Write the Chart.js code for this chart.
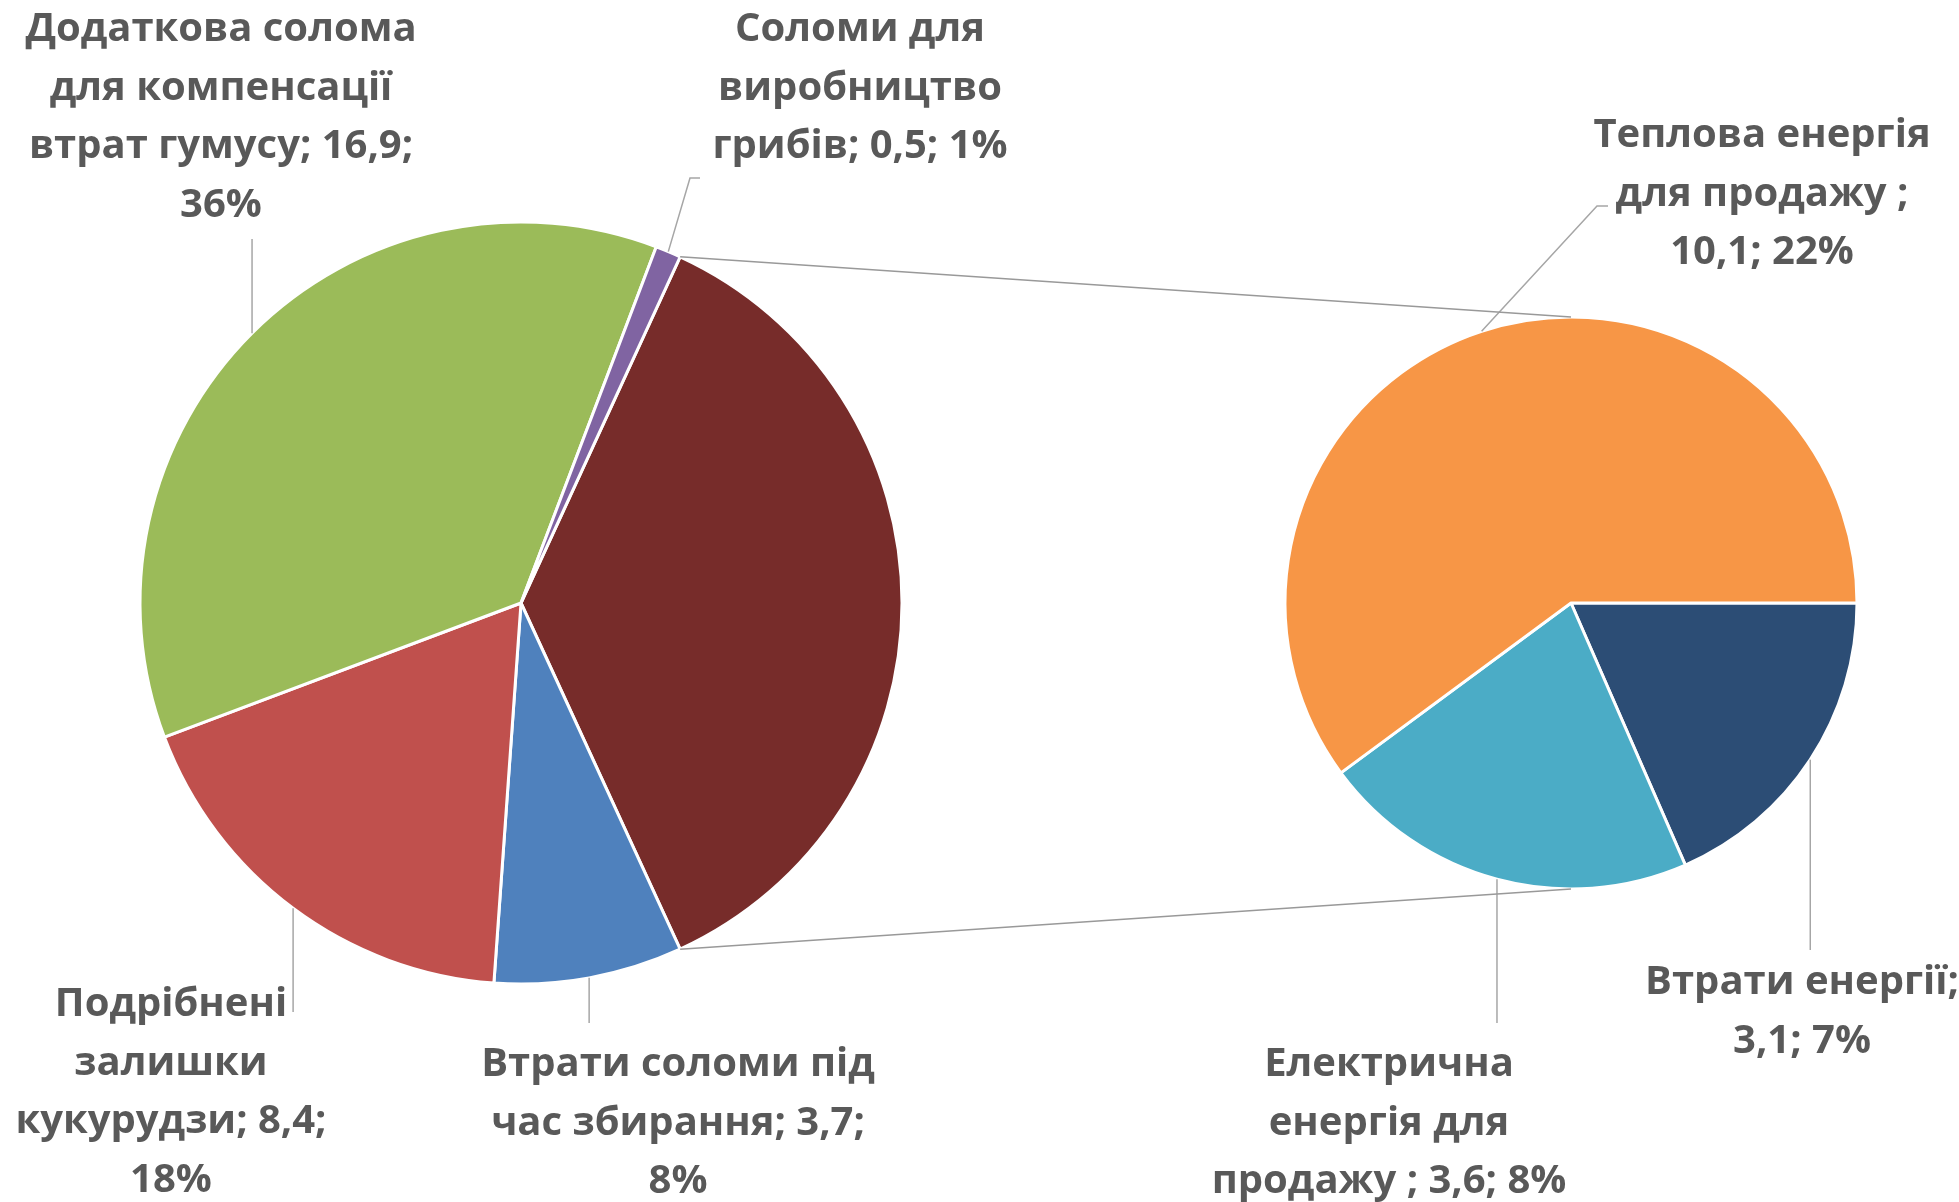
<!DOCTYPE html>
<html>
<head>
<meta charset="utf-8">
<title>Використання соломи</title>
<script src="https://cdn.jsdelivr.net/npm/chart.js@4.4.1/dist/chart.umd.min.js"></script>
<style>
    html, body { margin: 0; padding: 0; background: #fff; }
    #wrap { position: relative; width: 1959px; height: 1202px; }
    #wrap canvas { position: absolute; left: 0; top: 0; }
</style>
</head>
<body>
<div id="wrap">
    <canvas id="mainPie" width="1959" height="1202"></canvas>
    <canvas id="subPie" width="1959" height="1202"></canvas>
</div>
<script>
// Main pie (the energy part is the first slice, split out to the right)
const mainCategories = [
    'Втрати соломи під\nчас збирання',
    'Подрібнені\nзалишки\nкукурудзи',
    'Додаткова солома\nдля компенсації\nвтрат гумусу',
    'Соломи для\nвиробництво\nгрибів'
];
const mainValues = [3.7, 8.4, 16.9, 0.5];
const mainPercents = [8, 18, 36, 1];

// Secondary pie: energy from straw
const subCategories = [
    'Втрати енергії',
    'Електрична\nенергія для\nпродажу ',
    'Теплова енергія\nдля продажу '
];
const subValues = [3.1, 3.6, 10.1];
const subPercents = [7, 8, 22];

const energyTotal = subValues.reduce((a, b) => a + b, 0);
const grandTotal = energyTotal + mainValues.reduce((a, b) => a + b, 0);

const TEXT_COLOR = '#595959';
const LEADER_COLOR = '#a6a6a6';
const FONT = 'bold 40px "Open Sans", "Noto Sans", sans-serif';
const LINE_H = 58.5;

// label placement: centre x, first line y, where the tail wraps, leader end points
// (null x = keep the x of the slice point, so the leader runs vertically)
const mainLabelLayout = [
    null, // energy slice has no label
    { x: 678, y: 1065, wrap: 'pct', leader: [[null, 1023]] },
    { x: 171, y: 1005, wrap: 'pct', leader: [[null, 1012]] },
    { x: 221, y: 30, wrap: 'pct', leader: [[null, 239]] },
    { x: 860, y: 30, wrap: 'none', leader: [[690, 178], [700, 178]] }
];
const subLabelLayout = [
    { x: 1802, y: 983, wrap: 'value', leader: [[null, 950]] },
    { x: 1389, y: 1065, wrap: 'none', leader: [[null, 1023]] },
    { x: 1762, y: 136, wrap: 'value', leader: [[1597, 206], [1608, 206]] }
];

function fmtNum(v) {
    return String(v).replace('.', ',');
}

function buildLabel(name, value, pct, wrap) {
    return name + ';' + (wrap === 'value' ? '\n' : ' ') + fmtNum(value) + ';' +
        (wrap === 'pct' ? '\n' : ' ') + pct + '%';
}

// draws data labels with leader lines from the middle of each slice's rim
const sliceLabels = {
    id: 'sliceLabels',
    afterDatasetsDraw(chart, args, opts) {
        const ctx = chart.ctx;
        const arcs = chart.getDatasetMeta(0).data;
        ctx.save();
        arcs.forEach((arc, i) => {
            const lay = opts.layout[i];
            if (!lay) return;
            const mid = (arc.startAngle + arc.endAngle) / 2;
            const sx = arc.x + arc.outerRadius * Math.cos(mid);
            const sy = arc.y + arc.outerRadius * Math.sin(mid);

            ctx.strokeStyle = LEADER_COLOR;
            ctx.lineWidth = 1.5;
            ctx.beginPath();
            ctx.moveTo(sx, sy);
            lay.leader.forEach(p => ctx.lineTo(p[0] === null ? sx : p[0], p[1]));
            ctx.stroke();

            const text = buildLabel(opts.names[i], opts.values[i], opts.percents[i], lay.wrap);
            ctx.fillStyle = TEXT_COLOR;
            ctx.font = FONT;
            ctx.textAlign = 'center';
            ctx.textBaseline = 'middle';
            text.split('\n').forEach((line, k) => {
                ctx.fillText(line.trim(), lay.x, lay.y + k * LINE_H);
            });
        });
        ctx.restore();
    }
};

// lines joining the energy slice to the top and bottom of the secondary pie
const pieConnector = {
    id: 'pieConnector',
    afterDatasetsDraw(chart, args, opts) {
        const src = opts.source();
        if (!src) return;
        const a = src.getDatasetMeta(0).data[0];
        const b = chart.getDatasetMeta(0).data[0];
        const ctx = chart.ctx;
        const ends = [
            [a.startAngle, b.y - b.outerRadius],
            [a.endAngle, b.y + b.outerRadius]
        ];
        ctx.save();
        ctx.strokeStyle = '#999999';
        ctx.lineWidth = 1.5;
        ends.forEach(([ang, ty]) => {
            ctx.beginPath();
            ctx.moveTo(a.x + a.outerRadius * Math.cos(ang), a.y + a.outerRadius * Math.sin(ang));
            ctx.lineTo(b.x, ty);
            ctx.stroke();
        });
        ctx.restore();
    }
};

const baseOptions = {
    responsive: false,
    animation: false,
    events: [],
    plugins: { legend: { display: false }, tooltip: { enabled: false } }
};

const mainChart = new Chart(document.getElementById('mainPie'), {
    type: 'pie',
    data: {
        labels: ['Енергія', ...mainCategories],
        datasets: [{
            data: [energyTotal, ...mainValues],
            backgroundColor: ['#772C2A', '#4F81BD', '#C0504D', '#9BBB59', '#8064A2'],
            borderColor: '#ffffff',
            borderWidth: 3,
            hoverOffset: 0
        }]
    },
    options: {
        ...baseOptions,
        radius: 381,
        // energy slice centred on the right-hand side
        rotation: 90 - (energyTotal / grandTotal) * 180,
        layout: { padding: { left: 0, right: 917, top: 4, bottom: 0 } },
        plugins: {
            ...baseOptions.plugins,
            sliceLabels: {
                layout: mainLabelLayout,
                names: [null, ...mainCategories],
                values: [energyTotal, ...mainValues],
                percents: [null, ...mainPercents]
            }
        }
    },
    plugins: [sliceLabels]
});

new Chart(document.getElementById('subPie'), {
    type: 'pie',
    data: {
        labels: subCategories,
        datasets: [{
            data: subValues,
            backgroundColor: ['#2C4D75', '#4BACC6', '#F79646'],
            borderColor: '#ffffff',
            borderWidth: 3,
            hoverOffset: 0
        }]
    },
    options: {
        ...baseOptions,
        radius: 286,
        rotation: 90,
        layout: { padding: { left: 1183, right: 0, top: 4, bottom: 0 } },
        plugins: {
            ...baseOptions.plugins,
            sliceLabels: {
                layout: subLabelLayout,
                names: subCategories,
                values: subValues,
                percents: subPercents
            },
            pieConnector: { source: () => mainChart }
        }
    },
    plugins: [sliceLabels, pieConnector]
});
</script>
</body>
</html>
